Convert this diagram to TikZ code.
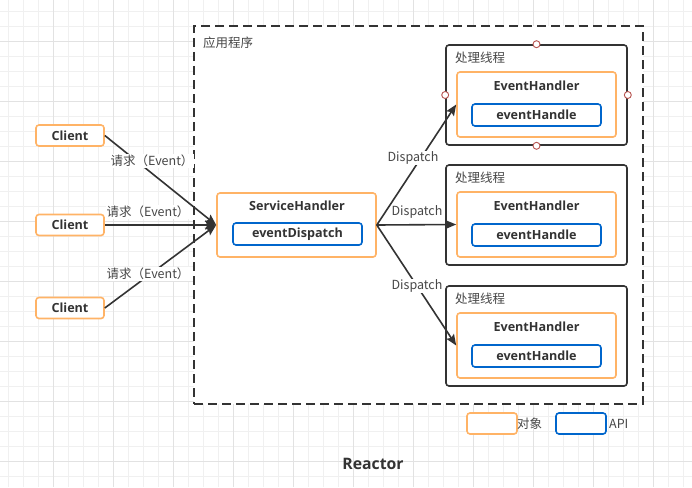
\documentclass[tikz,border=0pt]{standalone}
\usepackage{fontspec}
\setmainfont{Open Sans}
\newfontfamily\cjk{Noto Sans CJK SC}
\usetikzlibrary{arrows.meta}
\definecolor{gridminor}{HTML}{F0F0F0}
\definecolor{gridmajor}{HTML}{E2E2E2}
\definecolor{objc}{HTML}{FFB366}
\definecolor{apic}{HTML}{0066CC}
\definecolor{darkc}{HTML}{333333}
\definecolor{handlec}{HTML}{B85450}
\tikzset{
  objbox/.style={draw=objc, line width=1.6pt, rounded corners=3pt, fill=white, inner sep=0pt},
  apibox/.style={draw=apic, line width=1.6pt, rounded corners=3pt, fill=white, inner sep=0pt,
                 font=\fontsize{12.6}{14}\selectfont\bfseries, text=darkc},
  threadbox/.style={draw=darkc, line width=1.6pt, rounded corners=3pt, fill=white, inner sep=0pt},
  title/.style={font=\fontsize{12.6}{14}\selectfont\bfseries, text=darkc, inner sep=0pt},
  cjklbl/.style={font=\fontsize{12.5}{14}\selectfont\cjk, text=darkc!90, inner sep=0pt},
  lbl/.style={font=\fontsize{12.5}{14}\selectfont\cjk, text=darkc!90, fill=white, inner sep=1pt},
  conn/.style={draw=darkc, line width=1.6pt, -{Stealth[length=11pt,width=9pt,inset=2pt]}},
  handle/.style={circle, draw=handlec, fill=white, line width=0.9pt, minimum size=7pt, inner sep=0pt},
}
\begin{document}
\begin{tikzpicture}[x=1pt,y=-1pt]
\useasboundingbox (0,0) rectangle (692,487);
\fill[white] (0,0) rectangle (692,487);
% grid
\foreach \i in {0,...,46} {
  \draw[gridminor, line width=0.8pt] ({8.3+15*\i},0) -- ({8.3+15*\i},487);
}
\foreach \i in {0,...,32} {
  \draw[gridminor, line width=0.8pt] (0,{11.7+15*\i}) -- (692,{11.7+15*\i});
}
\foreach \i in {-1,...,11} {
  \draw[gridmajor, line width=0.8pt] ({53.3+60*\i},0) -- ({53.3+60*\i},487);
}
\foreach \i in {-1,...,8} {
  \draw[gridmajor, line width=0.8pt] (0,{41.7+60*\i}) -- (692,{41.7+60*\i});
}
% application frame
\node[draw=darkc, line width=1.8pt, dash pattern=on 9pt off 5pt, fill=white,
      minimum width=449pt, minimum height=378pt, inner sep=0pt] (app) at (418.5,215) {};
\node[cjklbl, anchor=west] (apptitle) at (203,43) {应用程序};

% clients
\node[objbox, minimum width=68pt, minimum height=21pt, title] (c1) at (70,135.5) {Client};
\node[objbox, minimum width=68pt, minimum height=21pt, title] (c2) at (70,225) {Client};
\node[objbox, minimum width=68pt, minimum height=21pt, title] (c3) at (70,308) {Client};

% service handler
\node[objbox, minimum width=159pt, minimum height=64pt] (sh) at (296.5,225) {};
\node[title] (shtitle) at (297,206) {ServiceHandler};
\node[apibox, minimum width=129pt, minimum height=22pt] (ed) at (297.5,234) {eventDispatch};

% threads
\foreach \k/\dy in {1/0,2/120,3/241} {
  \node[threadbox, minimum width=181pt, minimum height=100pt] (t\k) at (536.5,{95+\dy}) {};
  \node[cjklbl, anchor=west] (tt\k) at (455,{58+\dy}) {处理线程};
  \node[objbox, minimum width=159pt, minimum height=65pt] (eh\k) at (536.5,{104.5+\dy}) {};
  \node[title] (eht\k) at (536.5,{86+\dy}) {EventHandler};
  \node[apibox, minimum width=129pt, minimum height=22pt] (ehd\k) at (536.5,{115+\dy}) {eventHandle};
}
% selection handles on first thread
\node[handle] (h1) at (t1.north) {};
\node[handle] (h2) at (t1.south) {};
\node[handle] (h3) at (t1.west) {};
\node[handle] (h4) at (t1.east) {};

% client connectors
\draw[conn] (c1.east) -- (sh.west);
\draw[conn] (c2.east) -- (sh.west);
\draw[conn] (c3.east) -- (sh.west);
\node[lbl] (l1) at (152,161) {请求（Event）};
\node[lbl] (l2) at (148,212) {请求（Event）};
\node[lbl] (l3) at (148,274) {请求（Event）};

% dispatch connectors
\draw[conn] (sh.east) -- (eh1.west);
\draw[conn] (sh.east) -- (eh2.west);
\draw[conn] (sh.east) -- (eh3.west);
\node[lbl] (d1) at (413,158) {Dispatch};
\node[lbl] (d2) at (417,212) {Dispatch};
\node[lbl] (d3) at (417,286) {Dispatch};

% legend
\node[objbox, minimum width=50pt, minimum height=21pt] (lg1) at (492,423.5) {};
\node[cjklbl, anchor=west] (lg1t) at (517,424) {对象};
\node[apibox, minimum width=50pt, minimum height=21pt] (lg2) at (581,423.5) {};
\node[cjklbl, anchor=west] (lg2t) at (609,424) {API};

% title
\node[font=\fontsize{15.8}{18}\selectfont\bfseries, text=darkc, inner sep=0pt] (reactor) at (373,464) {Reactor};
\end{tikzpicture}
\end{document}
